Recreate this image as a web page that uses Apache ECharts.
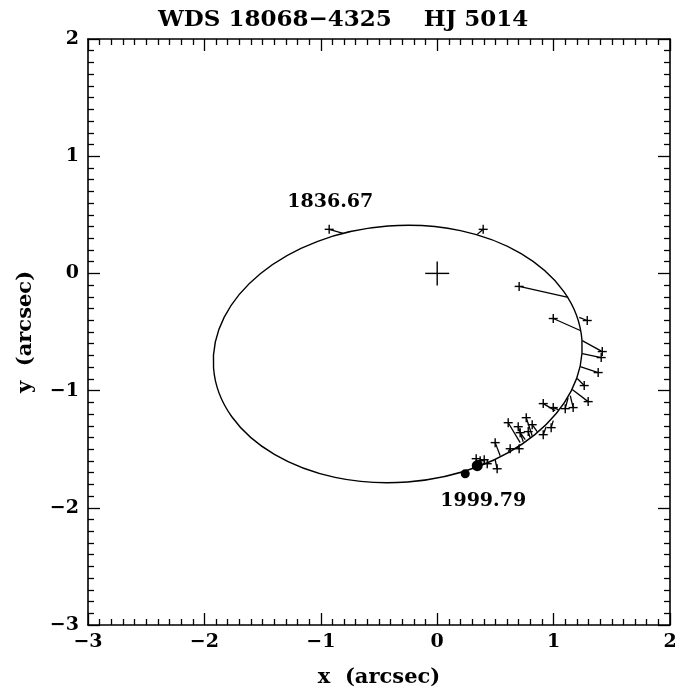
<!DOCTYPE html>
<html>
<head>
<meta charset="utf-8">
<script src="https://cdn.jsdelivr.net/npm/echarts@6/dist/echarts.min.js"></script>
<style>
  html, body { margin: 0; padding: 0; background: #fff; }
  #main { width: 691px; height: 690px; }
</style>
</head>
<body>
<div id="main"></div>
<script>
// apparent orbit: centre, semi-axes (arcsec), tilt of major axis (deg)
var orbitCenter = [-0.339, -0.688];
var orbitAxes = [1.587, 1.095];
var orbitTilt = [4.35];

// observed positions and their predicted positions on the orbit
var obsX = [-0.928, 0.395, 0.704, 0.997, 1.289, 1.418, 1.409, 1.383, 1.263, 1.297, 0.911, 0.997, 1.100, 1.168, 0.610, 0.696, 0.765, 0.713, 0.782, 0.816, 0.911, 0.979, 0.498, 0.627, 0.704, 0.369, 0.335, 0.404, 0.430, 0.515];
var obsY = [0.376, 0.376, -0.111, -0.385, -0.402, -0.667, -0.718, -0.846, -0.957, -1.094, -1.111, -1.145, -1.154, -1.145, -1.274, -1.308, -1.231, -1.359, -1.350, -1.291, -1.376, -1.316, -1.444, -1.496, -1.496, -1.598, -1.581, -1.590, -1.624, -1.667];
var predX = [-0.808, 0.344, 1.125, 1.229, 1.220, 1.246, 1.246, 1.229, 1.203, 1.160, 1.014, 1.040, 1.125, 1.143, 0.713, 0.739, 0.816, 0.756, 0.799, 0.859, 0.936, 0.997, 0.541, 0.610, 0.687, 0.387, 0.352, 0.404, 0.438, 0.498];
var predY = [0.342, 0.333, -0.205, -0.487, -0.376, -0.573, -0.684, -0.795, -0.897, -0.991, -1.171, -1.162, -1.060, -1.043, -1.444, -1.436, -1.385, -1.419, -1.402, -1.350, -1.308, -1.256, -1.556, -1.521, -1.479, -1.624, -1.641, -1.615, -1.607, -1.590];

// filled dots
var dotX = [0.344, 0.241];
var dotY = [-1.641, -1.709];
var dotSize = [11, 9];

// epoch labels
var epochText = ['1836.67', '1999.79'];
var epochX = [-0.919, 0.395];
var epochY = [0.607, -1.94];

var FONT = 'DejaVu Serif';

var myChart = echarts.init(document.getElementById('main'));

function minus(v) {
    return String(v).replace('-', '\u2212');
}

var obsData = obsX.map(function (x, i) { return [x, obsY[i]]; });
var ocData = obsX.map(function (x, i) {
    return { coords: [[x, obsY[i]], [predX[i], predY[i]]] };
});
var dotData = dotX.map(function (x, i) { return { value: [x, dotY[i]], symbolSize: dotSize[i] }; });
var labelData = epochText.map(function (t, i) { return [epochX[i], epochY[i], t]; });

function plusRender(half) {
    return function (params, api) {
        var p = api.coord([api.value(0), api.value(1)]);
        var st = { stroke: '#000', lineWidth: 1.4 };
        return {
            type: 'group',
            children: [
                { type: 'line', shape: { x1: p[0] - half, y1: p[1], x2: p[0] + half, y2: p[1] }, style: st },
                { type: 'line', shape: { x1: p[0], y1: p[1] - half, x2: p[0], y2: p[1] + half }, style: st }
            ]
        };
    };
}

function orbitRender(params, api) {
    var c = api.coord([api.value(0), api.value(1)]);
    var rx = api.size([api.value(2), 0])[0];
    var ry = api.size([0, api.value(3)])[1];
    return {
        type: 'ellipse',
        x: c[0], y: c[1],
        rotation: api.value(4) * Math.PI / 180,
        shape: { cx: 0, cy: 0, rx: rx, ry: ry },
        style: { fill: 'none', stroke: '#000', lineWidth: 1.4 }
    };
}

function textRender(params, api) {
    var p = api.coord([api.value(0), api.value(1)]);
    return {
        type: 'text',
        x: p[0], y: p[1],
        style: {
            text: labelData[params.dataIndex][2],
            fill: '#000', font: 'bold 19px "DejaVu Serif"',
            textAlign: 'center', textVerticalAlign: 'middle'
        }
    };
}

var frameTick = { show: true, inside: true, length: 12, lineStyle: { color: '#000', width: 1.3 } };
var frameMinor = { show: true, splitNumber: 10, length: 6, lineStyle: { color: '#000', width: 1.3 } };
var frameLine = { show: true, onZero: false, lineStyle: { color: '#000', width: 1.6 } };
var labelFont = { fontFamily: FONT, fontSize: 19, fontWeight: 'bold', color: '#000' };

var option = {
    animation: false,
    title: {
        text: 'WDS 18068\u22124325    HJ 5014',
        left: 153,
        top: 4,
        textStyle: { fontFamily: FONT, fontSize: 23, fontWeight: 'bold', color: '#000' }
    },
    grid: { left: 88, right: 21, top: 39, bottom: 65, outerBoundsMode: 'none', containLabel: false },
    xAxis: [{
        type: 'value', min: -3, max: 2, interval: 1,
        name: 'x  (arcsec)', nameLocation: 'middle', nameGap: 42,
        nameTextStyle: { fontFamily: FONT, fontSize: 21, fontWeight: 'bold', color: '#000' },
        axisLine: frameLine, axisTick: frameTick, minorTick: frameMinor,
        splitLine: { show: false },
        axisLabel: Object.assign({ margin: 8, formatter: minus }, labelFont)
    }, {
        type: 'value', min: -3, max: 2, interval: 1, position: 'top',
        axisLine: frameLine, axisTick: frameTick, minorTick: frameMinor,
        splitLine: { show: false }, axisLabel: { show: false }
    }],
    yAxis: [{
        type: 'value', min: -3, max: 2, interval: 1,
        name: 'y  (arcsec)', nameLocation: 'middle', nameGap: 52,
        nameTextStyle: { fontFamily: FONT, fontSize: 21, fontWeight: 'bold', color: '#000' },
        axisLine: frameLine, axisTick: frameTick, minorTick: frameMinor,
        splitLine: { show: false },
        axisLabel: Object.assign({ margin: 9, formatter: minus }, labelFont)
    }, {
        type: 'value', min: -3, max: 2, interval: 1, position: 'right',
        axisLine: frameLine, axisTick: frameTick, minorTick: frameMinor,
        splitLine: { show: false }, axisLabel: { show: false }
    }],
    series: [{
        type: 'custom',
        renderItem: orbitRender,
        data: [[orbitCenter[0], orbitCenter[1], orbitAxes[0], orbitAxes[1], orbitTilt[0]]]
    }, {
        type: 'lines',
        coordinateSystem: 'cartesian2d',
        data: ocData,
        lineStyle: { color: '#000', width: 1.3, opacity: 1 }
    }, {
        type: 'custom',
        renderItem: plusRender(4.5),
        data: obsData
    }, {
        type: 'custom',
        renderItem: plusRender(12),
        data: [[0, 0]]
    }, {
        type: 'scatter',
        data: dotData,
        itemStyle: { color: '#000', opacity: 1 }
    }, {
        type: 'custom',
        renderItem: textRender,
        data: labelData.map(function (d) { return [d[0], d[1]]; })
    }]
};
myChart.setOption(option);
</script>
</body>
</html>
